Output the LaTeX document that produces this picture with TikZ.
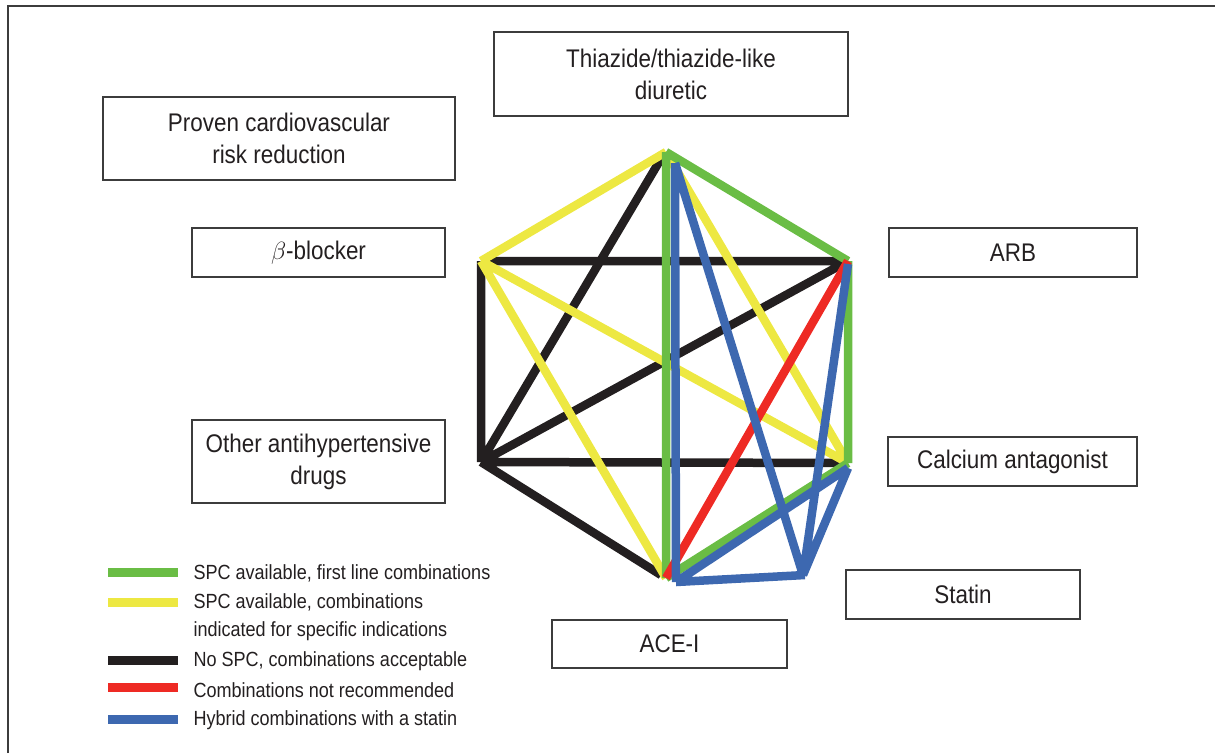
\documentclass[tikz,border=0pt]{standalone}
\usepackage{amsmath,amssymb}
\usepackage{fontspec}
\setmainfont{Liberation Sans}[FakeStretch=0.88]
\usetikzlibrary{calc}
\definecolor{spcgreen}{HTML}{6ABD45}
\definecolor{spcyellow}{HTML}{EDE842}
\definecolor{nospc}{HTML}{231F20}
\definecolor{notrec}{HTML}{EE2A24}
\definecolor{hybrid}{HTML}{3D68B0}
\definecolor{ink}{HTML}{231F20}
\definecolor{frame}{HTML}{3C3C3C}

\begin{document}
\begin{tikzpicture}[x=1pt,y=-1pt,
		box/.style={draw=frame,line width=1.4pt,inner sep=0pt,align=center,text=ink,
			font=\fontsize{25.5}{32}\selectfont},
		lnk/.style={line width=8.5pt},
		lgd/.style={anchor=west,align=left,text=ink,font=\fontsize{20.5}{28.5}\selectfont}]
		\useasboundingbox (0,0) rectangle (1215,753);
		\draw[frame,line width=1.5pt] (8,753)--(8,6)--(1215,6);

		\node[box,minimum width=354pt,minimum height=84pt] (thz) at (671,74) {Thiazide/thiazide-like\\diuretic};
		\node[box,minimum width=352pt,minimum height=83pt] (prv) at (279,138.5) {Proven cardiovascular\\risk reduction};
		\node[box,minimum width=253pt,minimum height=49pt] (bb) at (318.5,252.5) {$\beta$-blocker};
		\node[box,minimum width=248pt,minimum height=49pt] (arb) at (1013,252.5) {ARB};
		\node[box,minimum width=253pt,minimum height=83pt] (oth) at (318.5,461.5) {Other antihypertensive\\drugs};
		\node[box,minimum width=249pt,minimum height=49pt] (cca) at (1012.5,461.5) {Calcium antagonist};
		\node[box,minimum width=234pt,minimum height=49pt] (sta) at (963,594.5) {Statin};
		\node[box,minimum width=235pt,minimum height=48pt] (ace) at (669.5,644) {ACE-I};

		\coordinate (T) at (666,152);
		\coordinate (B) at (481,261);
		\coordinate (A) at (848,261);
		\coordinate (O) at (481,462);
		\coordinate (C) at (848,463);
		\coordinate (E) at (666,578);
		\coordinate (S) at (803,575);
		\coordinate (Tk) at (662,157);
		\coordinate (Ek) at (661,575);
		\coordinate (Tb) at (675,163);
		\coordinate (Ab) at (848,264);
		\coordinate (Cb) at (848,468);
		\coordinate (Eb) at (676,582);
		\coordinate (Sb) at (805,575);

		\draw[lnk,nospc] (B)--(A) (B)--(O) (O)--(C) (O)--(A) (O)--(Tk) (O)--(Ek);
		\draw[lnk,spcyellow] (T)--(B) (T)--(C) (B)--(C) (B)--(E);
		\draw[lnk,spcgreen] (T)--(A) (T)--(E) (A)--(C) (C)--(E);
		\draw[lnk,notrec] (A)--(E);
		\draw[lnk,hybrid] (Tb)--(Eb) (Tb)--(S) (Ab)--(S) (Cb)--(S) (Cb)--(Eb) (Eb)--(Sb);

		\foreach \i/\y/\col in {1/572/spcgreen,2/602/spcyellow,3/660/nospc,4/687/notrec,5/719/hybrid}{
			\fill[\col] (108,\y-4.5) rectangle (178,\y+4.5);
		}
		\node[lgd] (lg1) at (190,573) {SPC available, first line combinations};
		\node[lgd] (lg2) at (190,617) {SPC available, combinations\\indicated for specific indications};
		\node[lgd] (lg3) at (190,661) {No SPC, combinations acceptable};
		\node[lgd] (lg4) at (190,690) {Combinations not recommended};
		\node[lgd] (lg5) at (190,720) {Hybrid combinations with a statin};
	\end{tikzpicture}
\end{document}
